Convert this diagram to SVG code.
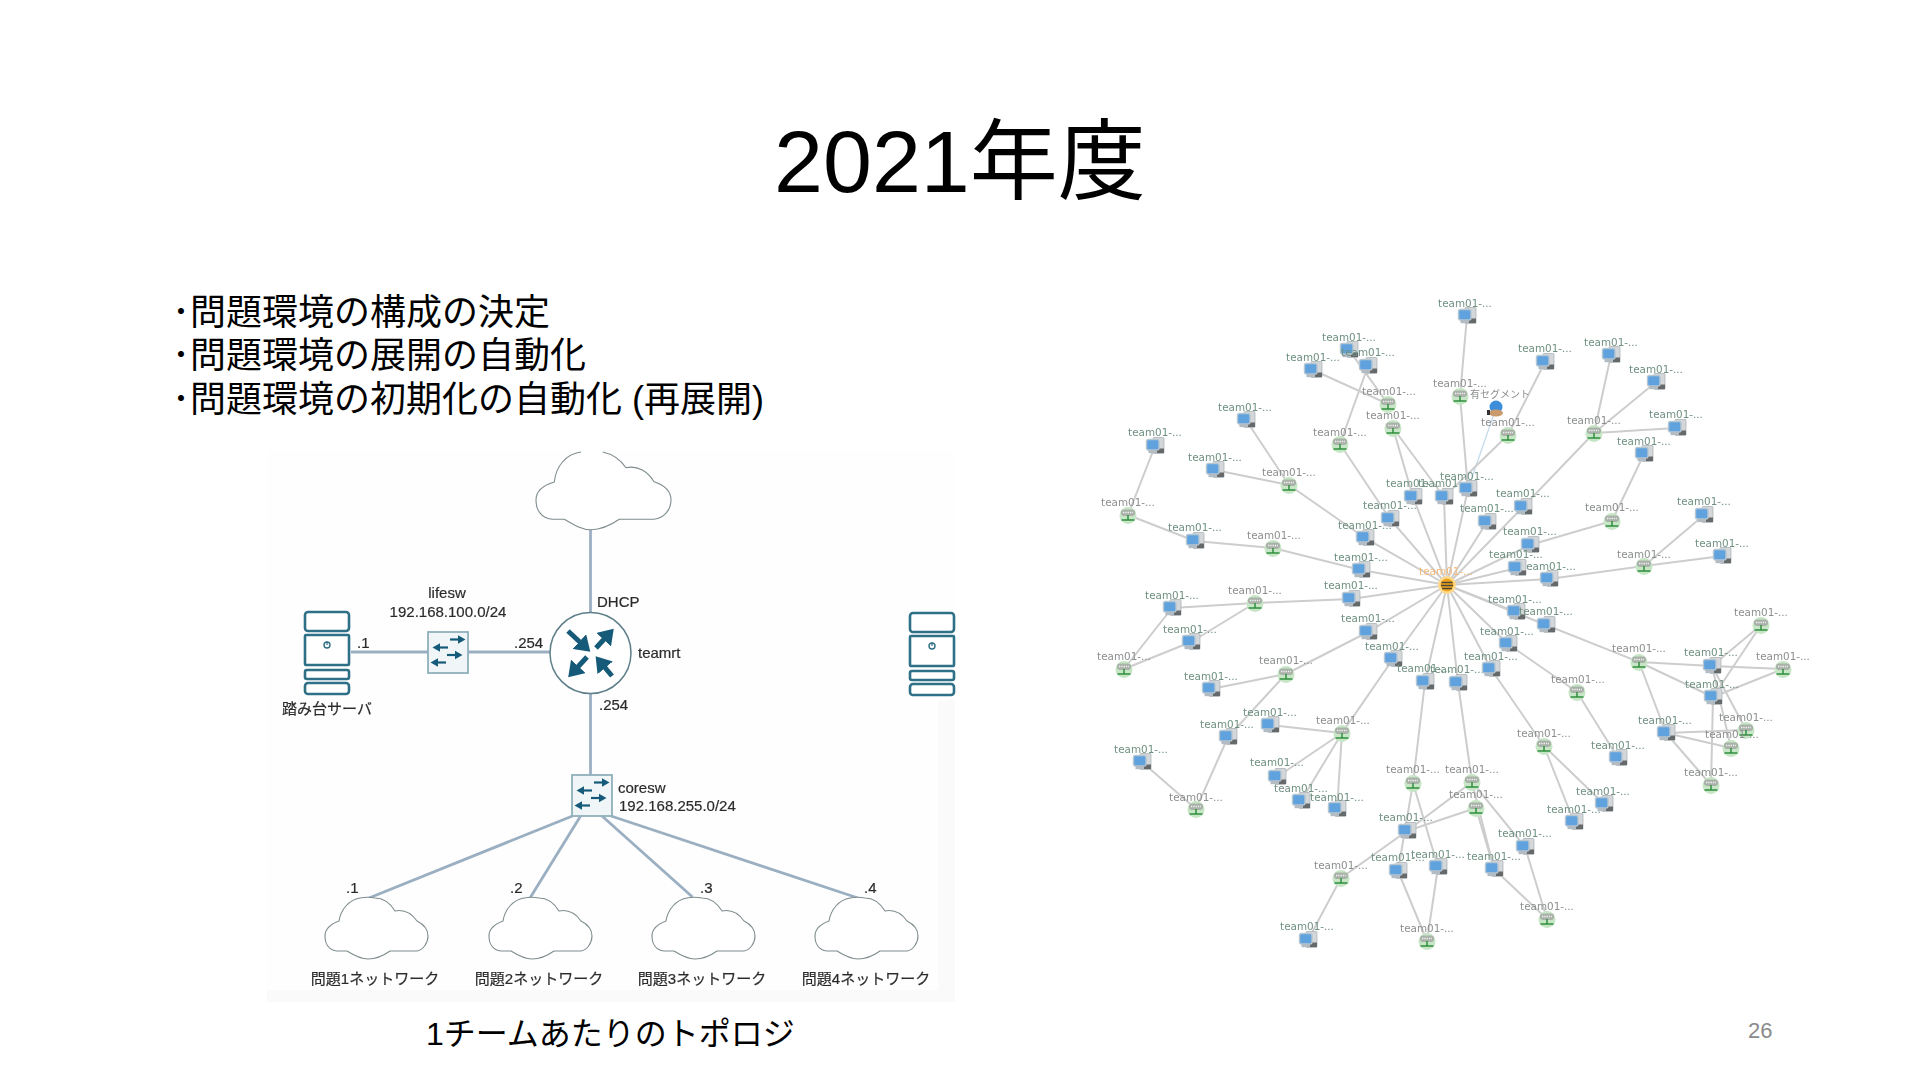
<svg xmlns="http://www.w3.org/2000/svg" width="1920" height="1080" viewBox="0 0 1920 1080">
<style>
text{font-family:"Liberation Sans","Noto Sans CJK JP",sans-serif}
.t{fill:#000}
.l{fill:#2c2c2c;font-size:15px;stroke:#2c2c2c;stroke-width:.2}
.m{text-anchor:middle}
.ln{fill:none;stroke:#9bafc2;stroke-width:2.8}
.cl{fill:#fff;stroke:#7f8c8e;stroke-width:1.1}
.sv{fill:#fff;stroke:#2f6f86;stroke-width:2.6}
.a{fill:none;stroke:#175a7a;stroke-width:2.2}
.r{fill:none;stroke:#175a7a;stroke-width:5}
.e{fill:none;stroke:#cdcdcd;stroke-width:2}
.g text{font-family:"DejaVu Sans",sans-serif;font-size:10.4px;text-anchor:middle}
.s{fill:#6f9080}
.n{fill:#8b8f8d}
</style>
<defs>
<filter id="b1" x="-5%" y="-5%" width="110%" height="110%"><feGaussianBlur stdDeviation="0.5"/></filter>
<filter id="b2" x="-5%" y="-5%" width="110%" height="110%"><feGaussianBlur stdDeviation="0.6"/></filter>
<marker id="ah" markerWidth="4" markerHeight="4" refX="1" refY="2" orient="auto" markerUnits="strokeWidth"><path d="M0 0L3 2L0 4Z" fill="#175a7a"/></marker>
<marker id="as" markerWidth="5" markerHeight="5" refX="1" refY="2.5" orient="auto" markerUnits="strokeWidth"><path d="M0 0.500L3.500 2.500L0 4.500Z" fill="#175a7a"/></marker>
<g id="server">
<rect class="sv" x="0" y="0" width="44" height="19" rx="3"/>
<rect class="sv" x="0" y="23" width="44" height="30" rx="1"/>
<rect class="sv" x="0" y="58" width="44" height="9" rx="2"/>
<rect class="sv" x="0" y="71" width="44" height="11" rx="3"/>
<circle cx="22" cy="33" r="3" fill="none" stroke="#2f6f86" stroke-width="1.400"/>
<path d="M22 29.500V33" stroke="#2f6f86" stroke-width="1.200"/>
</g>
<g id="switch">
<rect x="0" y="0" width="40" height="41" fill="#f0f6f7" stroke="#8fb0bb" stroke-width="1.800"/>
<path class="a" marker-end="url(#as)" d="M22 7.500H32"/>
<path class="a" marker-end="url(#as)" d="M20 15.500H10"/>
<path class="a" marker-end="url(#as)" d="M19 23H29"/>
<path class="a" marker-end="url(#as)" d="M18 30.500H8"/>
</g>
<path id="cloudBig" class="cl" d="M45 0C30 2 20 14 18.300 30C8 33 0 39 0 48C0 58 5 66 16 67.300H28.300C38 73 46 77.700 55 77.700C65 77.700 75 73 83.300 67.300H118C128 66 135 58 135 48C135 39 128 33 118 29.700C112 20 102 13 90 15.700C84 7 76 2 66.700 0"/>
<path id="cloud" class="cl" d="M35 0C24 2 16 11 14 23C6 26 0 31 0 38C0 46 4 52 12 53H22C30 58 36 61 43 61C50 61 58 58 65 53H92C98 52 103 45 103 38C103 31 98 26 92 23C87 16 80 11 70 13C65 5 58 0 50 0C45 -1 40 -1 35 0Z"/>
<g id="srv">
<rect x="-2" y="-8.500" width="11" height="16" rx="1" fill="#d4d7da" stroke="#aeb4b8" stroke-width=".8"/>
<rect x="2" y="2.500" width="7" height="4.500" fill="#66696b"/>
<rect x="-8.500" y="-6.500" width="12.500" height="10.500" rx="2" fill="#5ea2dd" stroke="#b6c6d2" stroke-width="1.400"/>
<rect x="-6.500" y="4" width="8.500" height="3.200" fill="#b3bcc3"/>
</g>
<g id="net">
<circle r="8.500" cy=".5" fill="#c6e6c6"/>
<rect x="-7" y="-5.500" width="14" height="6.500" rx="3" fill="#a9b1a9"/>
<path d="M-5 -2.500H5" stroke="#f4f4f4" stroke-width="1.300" stroke-dasharray="1.300 1"/>
<path d="M0 0V4.500M-6.500 5H6.500" stroke="#2f8f3d" stroke-width="1.500" fill="none"/>
</g>
</defs>
<rect width="1920" height="1080" fill="#fff"/>
<text id="title" class="t" x="774" y="192" font-size="88">2021年度</text>
<g id="bullets" class="t" font-size="36">
<text x="172" y="325">･問題環境の構成の決定</text>
<text x="172" y="368">･問題環境の展開の自動化</text>
<text x="172" y="412">･問題環境の初期化の自動化 (再展開)</text>
</g>
<text id="caption" class="t" x="426" y="1045" font-size="32">1チームあたりのトポロジ</text>
<text id="page" x="1748" y="1038" font-size="22" fill="#8a8a8a">26</text>

<g id="topology" filter="url(#b1)">
<rect x="267" y="450" width="688" height="552" fill="#fefefe"/>
<rect x="938" y="700" width="17" height="302" fill="#fafafa"/>
<rect x="267" y="990" width="688" height="12" fill="#fafafa"/>
<g id="links">
<path class="ln" d="M590.500 530V613"/>
<path class="ln" d="M590.500 693V776"/>
<path class="ln" d="M351 652H428"/>
<path class="ln" d="M468 652H550"/>
<path class="ln" d="M572.500 816L369 898"/>
<path class="ln" d="M580.600 816L530 898"/>
<path class="ln" d="M602 816L692.500 897"/>
<path class="ln" d="M611 816L858 898"/>
</g>
<g id="internet"><use href="#cloudBig" x="536" y="452"/></g>
<g id="teamrt">
<circle cx="590.500" cy="653" r="40.500" fill="#fff" stroke="#5f7f8a" stroke-width="1.500"/>
<path class="r" marker-end="url(#ah)" d="M568 631L583 645"/>
<path class="r" marker-end="url(#ah)" d="M596 648L607 636"/>
<path class="r" marker-end="url(#ah)" d="M587 657L575 670"/>
<path class="r" marker-end="url(#ah)" d="M612 676L602 664"/>
<text class="l" x="597" y="607">DHCP</text>
<text class="l" x="638" y="658">teamrt</text>
<text class="l" x="514" y="648">.254</text>
<text class="l" x="599" y="710">.254</text>
</g>
<g id="lifesw">
<use href="#switch" x="428" y="632"/>
<text class="l m" x="447" y="598">lifesw</text>
<text class="l m" x="448" y="617">192.168.100.0/24</text>
</g>
<g id="stepserver">
<use href="#server" x="305" y="612"/>
<text class="l" x="357" y="648">.1</text>
<text class="l m" x="327" y="714">踏み台サーバ</text>
</g>
<g id="server2"><use href="#server" x="910" y="613"/></g>
<g id="coresw">
<use href="#switch" x="572" y="775"/>
<text class="l" x="618" y="793">coresw</text>
<text class="l" x="619" y="811">192.168.255.0/24</text>
</g>
<g id="net1"><use href="#cloud" x="325" y="898"/><text class="l" x="346" y="893">.1</text><text class="l m" x="375" y="984">問題1ネットワーク</text></g>
<g id="net2"><use href="#cloud" x="489" y="898"/><text class="l" x="510" y="893">.2</text><text class="l m" x="539" y="984">問題2ネットワーク</text></g>
<g id="net3"><use href="#cloud" x="652" y="898"/><text class="l" x="700" y="893">.3</text><text class="l m" x="702" y="984">問題3ネットワーク</text></g>
<g id="net4"><use href="#cloud" x="815" y="898"/><text class="l" x="864" y="893">.4</text><text class="l m" x="866" y="984">問題4ネットワーク</text></g>
</g>

<g id="graph" class="g" filter="url(#b2)">
<g id="connectors">
<path class="e" d="M1447 585L1390 519"/><path class="e" d="M1447 585L1365 538"/><path class="e" d="M1447 585L1361 570"/><path class="e" d="M1447 585L1351 599"/>
<path class="e" d="M1447 585L1413 497"/><path class="e" d="M1447 585L1444 497"/><path class="e" d="M1447 585L1468 489"/><path class="e" d="M1447 585L1487 522"/>
<path class="e" d="M1447 585L1523 507"/><path class="e" d="M1447 585L1530 545"/><path class="e" d="M1447 585L1517 568"/><path class="e" d="M1447 585L1549 579"/>
<path class="e" d="M1447 585L1516 612"/><path class="e" d="M1447 585L1546 625"/><path class="e" d="M1447 585L1508 644"/><path class="e" d="M1447 585L1491 669"/>
<path class="e" d="M1447 585L1458 683"/><path class="e" d="M1447 585L1425 682"/><path class="e" d="M1447 585L1393 659"/><path class="e" d="M1447 585L1368 632"/>
<path class="e" d="M1413 497L1393 428"/><path class="e" d="M1444 497L1393 428"/><path class="e" d="M1388 404L1313 370"/><path class="e" d="M1388 404L1349 350"/>
<path class="e" d="M1368 366L1340 444"/><path class="e" d="M1340 444L1390 519"/><path class="e" d="M1467 316L1460 396"/><path class="e" d="M1460 396L1468 489"/>
<path d="M1496 408L1468 489" fill="none" stroke="#c3dcec" stroke-width="1.300"/>
<path class="e" d="M1508 435L1444 497"/><path class="e" d="M1545 362L1508 435"/>
<path class="e" d="M1594 433L1523 507"/><path class="e" d="M1594 433L1611 355"/><path class="e" d="M1594 433L1656 382"/><path class="e" d="M1594 433L1677 428"/>
<path class="e" d="M1612 521L1644 454"/><path class="e" d="M1612 521L1530 545"/>
<path class="e" d="M1644 566L1704 515"/><path class="e" d="M1644 566L1722 556"/><path class="e" d="M1644 566L1549 579"/>
<path class="e" d="M1365 538L1289 485"/><path class="e" d="M1289 485L1246 420"/><path class="e" d="M1289 485L1215 470"/>
<path class="e" d="M1361 570L1273 548"/><path class="e" d="M1273 548L1195 541"/><path class="e" d="M1195 541L1128 515"/><path class="e" d="M1128 515L1155 446"/>
<path class="e" d="M1351 599L1255 603"/><path class="e" d="M1255 603L1172 608"/><path class="e" d="M1255 603L1191 642"/><path class="e" d="M1172 608L1124 669"/><path class="e" d="M1191 642L1124 669"/>
<path class="e" d="M1368 632L1286 674"/><path class="e" d="M1286 674L1211 689"/><path class="e" d="M1286 674L1228 737"/><path class="e" d="M1228 737L1196 809"/><path class="e" d="M1142 762L1196 809"/>
<path class="e" d="M1393 659L1342 733"/><path class="e" d="M1342 733L1270 725"/><path class="e" d="M1342 733L1277 777"/><path class="e" d="M1342 733L1301 801"/><path class="e" d="M1342 733L1337 809"/>
<path class="e" d="M1425 682L1413 783"/><path class="e" d="M1458 683L1472 782"/>
<path class="e" d="M1413 783L1398 871"/><path class="e" d="M1413 783L1438 867"/>
<path class="e" d="M1407 831L1472 782"/><path class="e" d="M1407 831L1476 808"/><path class="e" d="M1407 831L1341 878"/><path class="e" d="M1341 878L1308 940"/>
<path class="e" d="M1398 871L1427 941"/><path class="e" d="M1438 867L1427 941"/>
<path class="e" d="M1476 808L1494 869"/><path class="e" d="M1472 782L1494 869"/><path class="e" d="M1472 782L1525 847"/><path class="e" d="M1494 869L1547 919"/><path class="e" d="M1525 847L1547 919"/>
<path class="e" d="M1491 669L1544 746"/><path class="e" d="M1544 746L1604 804"/><path class="e" d="M1544 746L1574 822"/>
<path class="e" d="M1508 644L1577 692"/><path class="e" d="M1577 692L1618 758"/>
<path class="e" d="M1546 625L1639 662"/><path class="e" d="M1639 662L1712 666"/><path class="e" d="M1639 662L1713 697"/><path class="e" d="M1639 662L1666 733"/>
<path class="e" d="M1712 666L1783 669"/><path class="e" d="M1712 666L1761 625"/><path class="e" d="M1713 697L1783 669"/><path class="e" d="M1713 697L1761 625"/>
<path class="e" d="M1712 666L1746 730"/><path class="e" d="M1712 666L1731 748"/><path class="e" d="M1713 697L1711 785"/>
<path class="e" d="M1666 733L1746 730"/><path class="e" d="M1666 733L1731 748"/><path class="e" d="M1666 733L1711 785"/>
</g>
<g id="g1"><use href="#srv" x="1467" y="316"/><text class="s" x="1465" y="307">team01-...</text></g>
<g id="g2"><use href="#srv" x="1349" y="350"/><text class="s" x="1349" y="341">team01-...</text></g>
<g id="g3"><text class="s" x="1368" y="356">team01-...</text><use href="#srv" x="1368" y="366"/></g>
<g id="g4"><use href="#srv" x="1313" y="370"/><text class="s" x="1313" y="361">team01-...</text></g>
<g id="g5"><use href="#net" x="1388" y="404"/><text class="n" x="1389" y="395">team01-...</text></g>
<g id="g6"><use href="#net" x="1393" y="428"/><text class="n" x="1393" y="419">team01-...</text></g>
<g id="g7"><use href="#net" x="1460" y="396"/><text class="n" x="1460" y="387">team01-...</text></g>
<g id="g8"><use href="#srv" x="1246" y="420"/><text class="s" x="1245" y="411">team01-...</text></g>
<g id="g9"><use href="#srv" x="1155" y="446"/><text class="s" x="1155" y="436">team01-...</text></g>
<g id="g10"><use href="#net" x="1340" y="444"/><text class="n" x="1340" y="436">team01-...</text></g>
<g id="g11"><use href="#srv" x="1215" y="470"/><text class="s" x="1215" y="461">team01-...</text></g>
<g id="g12"><use href="#net" x="1289" y="485"/><text class="n" x="1289" y="476">team01-...</text></g>
<g id="g13"><use href="#net" x="1128" y="515"/><text class="n" x="1128" y="506">team01-...</text></g>
<g id="g14"><use href="#srv" x="1195" y="541"/><text class="s" x="1195" y="531">team01-...</text></g>
<g id="g15"><use href="#net" x="1273" y="548"/><text class="n" x="1274" y="539">team01-...</text></g>
<g id="g16"><use href="#srv" x="1413" y="497"/><text class="s" x="1413" y="487">team01-...</text></g>
<g id="g17"><use href="#srv" x="1444" y="497"/><text class="s" x="1445" y="487">team01-...</text></g>
<g id="g18"><use href="#srv" x="1468" y="489"/><text class="s" x="1467" y="480">team01-...</text></g>
<g id="g19"><use href="#srv" x="1390" y="519"/><text class="s" x="1390" y="509">team01-...</text></g>
<g id="g20"><use href="#srv" x="1365" y="538"/><text class="s" x="1365" y="529">team01-...</text></g>
<g id="g21"><use href="#srv" x="1361" y="570"/><text class="s" x="1361" y="561">team01-...</text></g>
<g id="g22"><use href="#srv" x="1351" y="599"/><text class="s" x="1351" y="589">team01-...</text></g>
<g id="g23"><use href="#net" x="1255" y="603"/><text class="n" x="1255" y="594">team01-...</text></g>
<g id="g24"><use href="#srv" x="1172" y="608"/><text class="s" x="1172" y="599">team01-...</text></g>
<g id="g25"><use href="#srv" x="1191" y="642"/><text class="s" x="1190" y="633">team01-...</text></g>
<g id="g26"><use href="#net" x="1124" y="669"/><text class="n" x="1124" y="660">team01-...</text></g>
<g id="g27"><use href="#srv" x="1368" y="632"/><text class="s" x="1368" y="622">team01-...</text></g>
<g id="g28"><use href="#srv" x="1393" y="659"/><text class="s" x="1392" y="650">team01-...</text></g>
<g id="g29"><use href="#net" x="1286" y="674"/><text class="n" x="1286" y="664">team01-...</text></g>
<g id="g30"><use href="#srv" x="1211" y="689"/><text class="s" x="1211" y="680">team01-...</text></g>
<g id="g31"><use href="#srv" x="1425" y="682"/><text class="s" x="1424" y="672">team01-...</text></g>
<g id="g32"><use href="#srv" x="1458" y="683"/><text class="s" x="1457" y="673">team01-...</text></g>
<g id="g33"><use href="#srv" x="1270" y="725"/><text class="s" x="1270" y="716">team01-...</text></g>
<g id="g34"><use href="#srv" x="1228" y="737"/><text class="s" x="1227" y="728">team01-...</text></g>
<g id="g35"><use href="#net" x="1342" y="733"/><text class="n" x="1343" y="724">team01-...</text></g>
<g id="g36"><use href="#srv" x="1142" y="762"/><text class="s" x="1141" y="753">team01-...</text></g>
<g id="g37"><use href="#net" x="1196" y="809"/><text class="n" x="1196" y="801">team01-...</text></g>
<g id="g38"><use href="#srv" x="1277" y="777"/><text class="s" x="1277" y="766">team01-...</text></g>
<g id="g39"><use href="#srv" x="1301" y="801"/><text class="s" x="1301" y="792">team01-...</text></g>
<g id="g40"><use href="#srv" x="1337" y="809"/><text class="s" x="1337" y="801">team01-...</text></g>
<g id="g41"><use href="#net" x="1413" y="783"/><text class="n" x="1413" y="773">team01-...</text></g>
<g id="g42"><use href="#net" x="1472" y="782"/><text class="n" x="1472" y="773">team01-...</text></g>
<g id="g43"><use href="#net" x="1476" y="808"/><text class="n" x="1476" y="798">team01-...</text></g>
<g id="g44"><use href="#srv" x="1407" y="831"/><text class="s" x="1406" y="821">team01-...</text></g>
<g id="g45"><use href="#srv" x="1398" y="871"/><text class="s" x="1398" y="861">team01-...</text></g>
<g id="g46"><use href="#srv" x="1438" y="867"/><text class="s" x="1438" y="858">team01-...</text></g>
<g id="g47"><use href="#net" x="1341" y="878"/><text class="n" x="1341" y="869">team01-...</text></g>
<g id="g48"><use href="#srv" x="1308" y="940"/><text class="s" x="1307" y="930">team01-...</text></g>
<g id="g49"><use href="#net" x="1427" y="941"/><text class="n" x="1427" y="932">team01-...</text></g>
<g id="g50"><use href="#srv" x="1545" y="362"/><text class="s" x="1545" y="352">team01-...</text></g>
<g id="g51"><use href="#srv" x="1611" y="355"/><text class="s" x="1611" y="346">team01-...</text></g>
<g id="g52"><use href="#srv" x="1656" y="382"/><text class="s" x="1656" y="373">team01-...</text></g>
<g id="g53"><circle cx="1496" cy="407" r="6.500" fill="#3d8fdc"/><ellipse cx="1496" cy="413" rx="7" ry="3.500" fill="#c99a6c"/><rect x="1487" y="410" width="3" height="5" fill="#333"/><text x="1500" y="398" fill="#8b8f8d" style="font-family:'Noto Sans CJK JP',sans-serif;font-size:10px">有セグメント</text></g>
<g id="g54"><use href="#net" x="1508" y="435"/><text class="n" x="1508" y="426">team01-...</text></g>
<g id="g55"><use href="#net" x="1594" y="433"/><text class="n" x="1594" y="424">team01-...</text></g>
<g id="g56"><use href="#srv" x="1677" y="428"/><text class="s" x="1676" y="418">team01-...</text></g>
<g id="g57"><use href="#srv" x="1644" y="454"/><text class="s" x="1644" y="445">team01-...</text></g>
<g id="g58"><use href="#srv" x="1523" y="507"/><text class="s" x="1523" y="497">team01-...</text></g>
<g id="g59"><use href="#srv" x="1487" y="522"/><text class="s" x="1487" y="512">team01-...</text></g>
<g id="g60"><use href="#net" x="1612" y="521"/><text class="n" x="1612" y="511">team01-...</text></g>
<g id="g61"><use href="#srv" x="1704" y="515"/><text class="s" x="1704" y="505">team01-...</text></g>
<g id="g62"><use href="#srv" x="1530" y="545"/><text class="s" x="1530" y="535">team01-...</text></g>
<g id="g63"><text class="s" x="1549" y="570">team01-...</text><use href="#srv" x="1549" y="579"/></g>
<g id="g64"><use href="#srv" x="1517" y="568"/><text class="s" x="1516" y="558">team01-...</text></g>
<g id="g65"><use href="#net" x="1644" y="566"/><text class="n" x="1644" y="558">team01-...</text></g>
<g id="g66"><use href="#srv" x="1722" y="556"/><text class="s" x="1722" y="547">team01-...</text></g>
<g id="g67"><use href="#srv" x="1516" y="612"/><text class="s" x="1515" y="603">team01-...</text></g>
<g id="g68"><text class="s" x="1546" y="615">team01-...</text><use href="#srv" x="1546" y="625"/></g>
<g id="g69"><use href="#srv" x="1508" y="644"/><text class="s" x="1507" y="635">team01-...</text></g>
<g id="g70"><use href="#srv" x="1491" y="669"/><text class="s" x="1491" y="660">team01-...</text></g>
<g id="g71"><use href="#net" x="1577" y="692"/><text class="n" x="1578" y="683">team01-...</text></g>
<g id="g72"><use href="#net" x="1544" y="746"/><text class="n" x="1544" y="737">team01-...</text></g>
<g id="g73"><use href="#srv" x="1618" y="758"/><text class="s" x="1618" y="749">team01-...</text></g>
<g id="g74"><use href="#net" x="1639" y="662"/><text class="n" x="1639" y="652">team01-...</text></g>
<g id="g75"><use href="#net" x="1761" y="625"/><text class="n" x="1761" y="616">team01-...</text></g>
<g id="g76"><use href="#srv" x="1712" y="666"/><text class="s" x="1711" y="656">team01-...</text></g>
<g id="g77"><use href="#net" x="1783" y="669"/><text class="n" x="1783" y="660">team01-...</text></g>
<g id="g78"><use href="#srv" x="1713" y="697"/><text class="s" x="1712" y="688">team01-...</text></g>
<g id="g79"><use href="#net" x="1746" y="730"/><text class="n" x="1746" y="721">team01-...</text></g>
<g id="g80"><text class="n" x="1732" y="738">team01-...</text><use href="#net" x="1731" y="748"/></g>
<g id="g81"><use href="#srv" x="1666" y="733"/><text class="s" x="1665" y="724">team01-...</text></g>
<g id="g82"><use href="#net" x="1711" y="785"/><text class="n" x="1711" y="776">team01-...</text></g>
<g id="g83"><use href="#srv" x="1604" y="804"/><text class="s" x="1603" y="795">team01-...</text></g>
<g id="g84"><use href="#srv" x="1574" y="822"/><text class="s" x="1574" y="813">team01-...</text></g>
<g id="g85"><use href="#srv" x="1525" y="847"/><text class="s" x="1525" y="837">team01-...</text></g>
<g id="g86"><use href="#srv" x="1494" y="869"/><text class="s" x="1494" y="860">team01-...</text></g>
<g id="g87"><use href="#net" x="1547" y="919"/><text class="n" x="1547" y="910">team01-...</text></g>
<g id="center">
<circle cx="1447" cy="585" r="9" fill="#ffd98c"/><circle cx="1447" cy="585" r="6.500" fill="#f2a51e"/>
<path d="M1441.500 582.500H1452.500M1441 585.500H1453M1442 588.500H1452" stroke="#4a4a3a" stroke-width="1.300"/>
<text x="1446" y="575" fill="#f4b878">team01-...</text>
</g>
</g>
</svg>
